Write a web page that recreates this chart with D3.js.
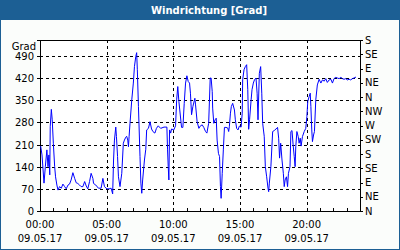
<!DOCTYPE html>
<html>
<head>
<meta charset="utf-8">
<script src="https://cdn.jsdelivr.net/npm/d3@7"></script>
<style>
  body { margin: 0; background: #fff; }
  text { font-family: "DejaVu Sans", sans-serif; font-size: 10px; fill: #000; }
  .grid line { stroke: #000; stroke-dasharray: 3,3; shape-rendering: crispEdges; }
  .axis path, .axis line { stroke: #000; shape-rendering: crispEdges; }
</style>
</head>
<body>
<div id="chart"></div>
<script>
// chart values
var title = "Windrichtung [Grad]";
var unitLabel = "Grad";
var dateLabel = "09.05.17";
var leftTicks = [0, 70, 140, 210, 280, 350, 420, 490];
var compassTicks = [0, 45, 90, 135, 180, 225, 270, 315, 360, 405, 450, 495, 540];
var compassLabels = ["N", "NE", "E", "SE", "S", "SW", "W", "NW", "N", "NE", "E", "SE", "S"];
var labelHours = [0, 5, 10, 15, 20];

// minutes since 00:00 and direction in degrees
var minutes = [3, 9, 18, 24, 31, 36, 40, 44, 46, 51, 55, 60, 66, 70, 76, 81, 88, 96, 103, 111,
    118, 126, 133, 140, 148, 156, 163, 170, 178, 185, 193, 201, 208, 215, 223, 230, 238, 241, 251, 263,
    275, 283, 290, 301, 311, 320, 327, 331, 335, 341, 344, 349, 353, 360, 368, 375, 380, 386, 390, 395,
    398, 401, 405, 413, 420, 425, 431, 435, 438, 443, 450, 454, 458, 462, 470, 476, 480, 488, 495, 502,
    508, 517, 524, 532, 543, 558, 571, 574, 577, 580, 583, 588, 592, 602, 610, 615, 620, 625, 629, 637,
    643, 649, 655, 661, 667, 673, 677, 682, 688, 697, 700, 707, 715, 722, 730, 737, 745, 751, 759, 766,
    770, 775, 777, 782, 788, 793, 797, 803, 808, 812, 815, 820, 825, 830, 837, 845, 849, 852, 857, 861,
    867, 875, 879, 885, 891, 897, 905, 910, 912, 918, 924, 930, 935, 939, 943, 950, 954, 960, 965, 972,
    977, 981, 987, 993, 998, 1002, 1009, 1014, 1020, 1026, 1029, 1032, 1039, 1047, 1054, 1062, 1069, 1074, 1078, 1083,
    1089, 1095, 1099, 1103, 1109, 1114, 1118, 1125, 1129, 1134, 1139, 1144, 1148, 1151, 1156, 1162, 1166, 1171, 1175, 1181,
    1189, 1196, 1201, 1205, 1211, 1216, 1219, 1223, 1226, 1231, 1235, 1241, 1248, 1256, 1264, 1271, 1279, 1286, 1293, 1301,
    1309, 1316, 1323, 1331, 1338, 1346, 1354, 1361, 1368, 1376, 1383, 1391, 1398, 1406, 1413, 1422];
var values = [205, 177, 88, 140, 193, 140, 177, 114, 266, 321, 288, 214, 140, 108, 82, 66, 77, 72, 85, 77,
    70, 82, 85, 98, 121, 103, 89, 87, 82, 77, 77, 93, 79, 70, 93, 119, 103, 87, 82, 72,
    72, 103, 77, 70, 70, 72, 54, 161, 224, 265, 235, 172, 108, 77, 119, 214, 224, 233, 236, 224,
    203, 236, 277, 351, 404, 456, 488, 500, 446, 330, 172, 88, 56, 98, 161, 195, 256, 261, 282, 259,
    251, 246, 261, 269, 261, 265, 265, 193, 140, 98, 256, 246, 259, 256, 269, 351, 393, 346, 319, 264,
    264, 340, 404, 427, 409, 404, 372, 304, 330, 356, 335, 282, 261, 269, 272, 264, 251, 246, 277, 420,
    420, 377, 325, 277, 288, 293, 224, 182, 172, 77, 40, 119, 193, 264, 264, 262, 251, 266, 309, 330,
    340, 319, 288, 261, 256, 268, 265, 309, 414, 446, 456, 462, 383, 258, 288, 351, 383, 404, 414, 420,
    372, 288, 435, 456, 372, 277, 236, 140, 108, 72, 61, 88, 140, 251, 254, 259, 264, 230, 167, 214,
    161, 119, 77, 98, 108, 77, 119, 140, 251, 254, 209, 172, 140, 203, 251, 235, 214, 230, 205, 235,
    251, 261, 298, 346, 361, 372, 330, 256, 219, 240, 251, 351, 398, 416, 404, 414, 410, 418, 406, 414,
    416, 404, 418, 422, 420, 418, 422, 418, 416, 418, 414, 416, 414, 418, 420, 423];

var svgWidth = 400;
var svgHeight = 250;
var margin = { top: 40, right: 40, bottom: 39, left: 40 };
var width = svgWidth - margin.left - margin.right;
var height = svgHeight - margin.top - margin.bottom;

var svg = d3.select("#chart").append("svg")
    .attr("width", svgWidth)
    .attr("height", svgHeight);

// frame + title bar
svg.append("rect")
    .attr("x", 0.5).attr("y", 0.5)
    .attr("width", svgWidth - 1).attr("height", svgHeight - 1)
    .attr("fill", "#fbfdfb")
    .attr("stroke", "#1c5f94");
svg.append("rect")
    .attr("x", 0).attr("y", 0)
    .attr("width", svgWidth).attr("height", 20)
    .attr("fill", "#1c5f94");
svg.append("text")
    .attr("x", svgWidth / 2 + 9)
    .attr("y", 14)
    .attr("text-anchor", "middle")
    .style("fill", "#fff")
    .style("font-weight", "bold")
    .text(title);

var chartGroup = svg.append("g")
    .attr("transform", `translate(${margin.left}, ${margin.top})`);

chartGroup.append("rect")
    .attr("width", width).attr("height", height)
    .attr("fill", "#fff");

var xScale = d3.scaleLinear().domain([0, 24 * 60]).range([0, width]);
var yScale = d3.scaleLinear().domain([0, 540]).range([height, 0]);

// grid
var grid = chartGroup.append("g").classed("grid", true);
grid.selectAll(".hgrid")
    .data(leftTicks.filter(d => d > 0))
    .enter().append("line")
    .attr("x1", 0).attr("x2", width)
    .attr("y1", d => Math.round(yScale(d)) + 0.5)
    .attr("y2", d => Math.round(yScale(d)) + 0.5);
grid.selectAll(".vgrid")
    .data(labelHours.filter(d => d > 0))
    .enter().append("line")
    .attr("y1", 0).attr("y2", height)
    .attr("x1", d => Math.round(xScale(d * 60)) + 0.5)
    .attr("x2", d => Math.round(xScale(d * 60)) + 0.5);

// plot border top
chartGroup.append("line")
    .attr("x1", 0).attr("x2", width)
    .attr("y1", 0.5).attr("y2", 0.5)
    .attr("stroke", "#000");

// axes
var leftAxis = d3.axisLeft(yScale).tickValues(leftTicks).tickSize(3).tickPadding(3);
chartGroup.append("g").classed("axis", true).call(leftAxis)
    .call(g => g.selectAll("text").attr("dy", "0.35em"));

var rightAxis = d3.axisRight(yScale).tickValues(compassTicks).tickSize(3).tickPadding(2)
    .tickFormat((d, i) => compassLabels[i]);
chartGroup.append("g").classed("axis", true)
    .attr("transform", `translate(${width}, 0)`)
    .call(rightAxis);

var hourTicks = d3.range(0, 25).map(h => h * 60);
var bottomAxis = d3.axisBottom(xScale).tickValues(hourTicks).tickSizeInner(-3).tickSizeOuter(0)
    .tickFormat("");
chartGroup.append("g").classed("axis", true)
    .attr("transform", `translate(0, ${height})`)
    .call(bottomAxis);

// time labels (two lines)
var xLabels = chartGroup.append("g");
xLabels.selectAll(".tl")
    .data(labelHours)
    .enter().append("text")
    .attr("x", d => xScale(d * 60))
    .attr("y", height + 17)
    .attr("text-anchor", "middle")
    .text(d => d3.format("02")(d) + ":00");
xLabels.selectAll(".dl")
    .data(labelHours)
    .enter().append("text")
    .attr("x", d => xScale(d * 60))
    .attr("y", height + 31)
    .attr("text-anchor", "middle")
    .text(dateLabel);

chartGroup.append("text")
    .attr("x", -4)
    .attr("y", 10)
    .attr("text-anchor", "end")
    .text(unitLabel);

// the line
var data = minutes.map((m, i) => ({ t: m, v: values[i] }));
var line = d3.line()
    .x(d => xScale(d.t))
    .y(d => yScale(d.v));
chartGroup.append("path")
    .datum(data)
    .attr("fill", "none")
    .attr("stroke", "#0000ff")
    .attr("stroke-width", 1)
    .attr("d", line);
</script>
</body>
</html>
